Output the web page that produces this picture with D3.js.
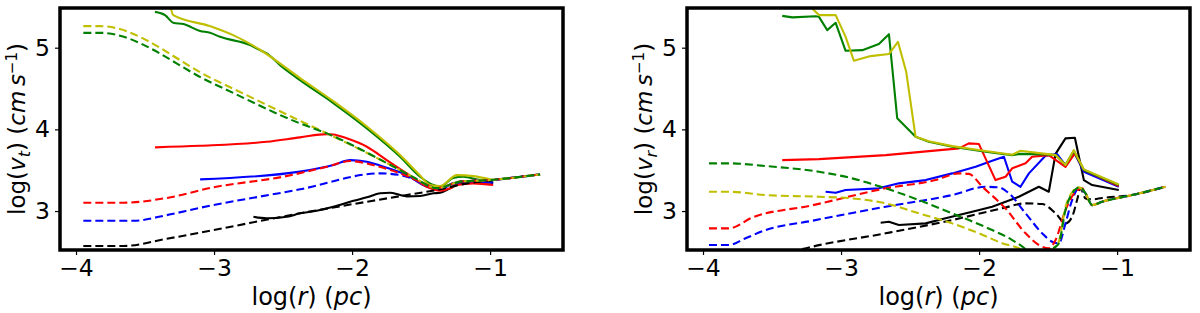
<!DOCTYPE html>
<html>
<head>
<meta charset="utf-8">
<script src="https://cdn.jsdelivr.net/npm/d3@7"></script>
<style>
  body { margin: 0; background: #fff; }
  svg text { font-family: "DejaVu Sans", sans-serif; fill: #000; }
</style>
</head>
<body>
<script>
// tick values and axis ranges
var xTicks = [-4, -3, -2, -1]
var yTicks = [3, 4, 5]
var xDomain = [-4.116, -0.472]
var yDomain = [2.523, 5.486]

// ---- left panel: log(v_t) ----
var tBlackSolid = [[-2.715,2.93],[-2.618,2.911],[-2.473,2.93],[-2.377,2.972],[-2.256,3.004],[-2.136,3.053],[-1.990,3.126],[-1.893,3.168],[-1.797,3.217],[-1.725,3.224],[-1.652,3.196],[-1.604,3.18],[-1.507,3.184],[-1.411,3.217],[-1.362,3.224],[-1.290,3.278],[-1.217,3.339],[-1.121,3.35],[-1.0,3.351],[-0.978,3.339]]
var tBlueSolid = [[-3.101,3.388],[-2.377,3.483],[-2.136,3.563],[-2.014,3.624],[-1.893,3.603],[-1.749,3.53],[-1.604,3.441],[-1.459,3.297],[-1.378,3.269],[-1.314,3.297],[-1.268,3.339],[-1.121,3.346],[-0.978,3.351]]
var tRedSolid = [[-3.428,3.78],[-3.101,3.799],[-2.618,3.848],[-2.377,3.902],[-2.183,3.942],[-2.136,3.938],[-2.039,3.89],[-1.893,3.787],[-1.749,3.624],[-1.604,3.461],[-1.459,3.297],[-1.362,3.248],[-1.290,3.278],[-1.241,3.318],[-1.121,3.339],[-0.978,3.318]]
var tGreenSolid = [[-3.428,5.439],[-3.355,5.399],[-3.295,5.305],[-3.222,5.289],[-3.101,5.205],[-3.029,5.182],[-2.957,5.133],[-2.739,5.032],[-2.667,4.97],[-2.618,4.93],[-2.522,4.787],[-2.377,4.603],[-2.136,4.322],[-1.893,4.012],[-1.652,3.665],[-1.507,3.42],[-1.411,3.318],[-1.362,3.297],[-1.268,3.404],[-1.196,3.42],[-1.051,3.379],[-0.978,3.379]]
var tYellowSolid = [[-3.33,5.62],[-3.295,5.399],[-3.029,5.264],[-2.862,5.154],[-2.667,4.975],[-2.377,4.628],[-2.136,4.345],[-1.893,4.035],[-1.652,3.685],[-1.507,3.435],[-1.435,3.32],[-1.362,3.306],[-1.241,3.44],[-1.121,3.428],[-0.978,3.379]]
var tBlackDash = [[-3.947,2.572],[-3.657,2.572],[-3.343,2.66],[-3.005,2.767],[-2.377,2.972],[-1.604,3.196],[-1.362,3.266],[-1.169,3.339],[-0.978,3.379],[-0.638,3.449]]
var tBlueDash = [[-3.947,2.881],[-3.587,2.881],[-3.343,2.95],[-3.101,3.04],[-2.377,3.266],[-1.797,3.461],[-1.652,3.441],[-1.604,3.42],[-1.459,3.32],[-1.386,3.28],[-1.217,3.36],[-1.0,3.38],[-0.638,3.449]]
var tRedDash = [[-3.947,3.102],[-3.657,3.102],[-3.343,3.16],[-3.005,3.29],[-2.5,3.42],[-2.183,3.542],[-2.014,3.612],[-1.848,3.563],[-1.652,3.461],[-1.507,3.359],[-1.386,3.28],[-1.217,3.36],[-1.0,3.38],[-0.638,3.449]]
var tGreenDash = [[-3.947,5.182],[-3.826,5.182],[-3.0,4.556],[-2.377,4.073],[-2.183,3.951],[-1.749,3.588],[-1.558,3.416],[-1.386,3.28],[-1.217,3.36],[-1.0,3.38],[-0.638,3.449]]
var tYellowDash = [[-3.947,5.264],[-3.826,5.264],[-3.0,4.61],[-2.377,4.105],[-2.183,3.951],[-1.749,3.588],[-1.558,3.416],[-1.386,3.28],[-1.217,3.36],[-1.0,3.38],[-0.638,3.449]]

// ---- right panel: log(v_r) ----
var rBlackSolid = [[-2.713,2.857],[-2.653,2.869],[-2.581,2.829],[-2.387,2.849],[-2.243,2.911],[-2.050,2.991],[-1.905,3.053],[-1.712,3.175],[-1.567,3.297],[-1.495,3.236],[-1.446,3.70],[-1.374,3.890],[-1.306,3.897],[-1.241,3.379],[-1.181,3.318],[-0.988,3.257]]
var rBlueSolid = [[-3.112,3.236],[-3.039,3.224],[-2.967,3.257],[-2.726,3.278],[-2.581,3.339],[-2.387,3.379],[-2.195,3.461],[-2.025,3.542],[-1.905,3.616],[-1.820,3.665],[-1.760,3.359],[-1.700,3.297],[-1.639,3.461],[-1.519,3.677],[-1.435,3.698],[-1.374,3.563],[-1.314,3.726],[-1.241,3.481],[-0.988,3.297]]
var rRedSolid = [[-3.426,3.624],[-3.160,3.636],[-2.677,3.685],[-2.146,3.767],[-2.074,3.829],[-2.001,3.820],[-1.881,3.379],[-1.808,3.420],[-1.760,3.523],[-1.663,3.584],[-1.616,3.665],[-1.495,3.685],[-1.374,3.542],[-1.306,3.706],[-1.241,3.502],[-0.988,3.306]]
var rGreenSolid = [[-3.426,5.390],[-3.353,5.371],[-3.184,5.385],[-3.160,5.378],[-3.100,5.215],[-3.039,5.305],[-2.967,4.962],[-2.846,4.970],[-2.726,5.044],[-2.653,5.166],[-2.593,4.135],[-2.460,3.909],[-2.364,3.848],[-2.195,3.787],[-1.953,3.726],[-1.760,3.685],[-1.700,3.70],[-1.519,3.694],[-1.446,3.685],[-1.374,3.563],[-1.314,3.738],[-1.241,3.502],[-0.988,3.318]]
var rYellowSolid = [[-3.426,5.8],[-3.209,5.48],[-3.160,5.399],[-3.039,5.399],[-2.967,5.133],[-2.907,4.840],[-2.786,4.897],[-2.653,4.922],[-2.588,5.072],[-2.528,4.705],[-2.460,3.909],[-2.364,3.855],[-2.195,3.795],[-1.953,3.735],[-1.760,3.69],[-1.700,3.738],[-1.519,3.70],[-1.446,3.685],[-1.374,3.563],[-1.314,3.745],[-1.241,3.51],[-0.988,3.325]]
var rBlackDash = [[-3.957,2.30],[-3.812,2.30],[-3.5,2.40],[-3.305,2.523],[-3.209,2.563],[-2.677,2.727],[-2.195,2.890],[-1.833,3.033],[-1.663,3.094],[-1.543,3.086],[-1.446,2.972],[-1.374,2.849],[-1.326,2.93],[-1.290,3.135],[-1.265,3.278],[-1.229,3.155],[-1.181,3.143],[-1.109,3.16],[-0.891,3.196],[-0.650,3.297]]
var rBlueDash = [[-3.957,2.584],[-3.812,2.584],[-3.70,2.66],[-3.546,2.767],[-3.209,2.881],[-2.677,3.053],[-2.195,3.196],[-1.953,3.297],[-1.857,3.29],[-1.784,3.217],[-1.663,2.972],[-1.543,2.727],[-1.471,2.624],[-1.422,2.605],[-1.374,2.849],[-1.326,3.135],[-1.277,3.278],[-1.229,3.217],[-1.181,3.073],[-1.109,3.114],[-0.891,3.196],[-0.650,3.297]]
var rRedDash = [[-3.957,2.788],[-3.812,2.788],[-3.643,2.92],[-3.209,3.07],[-2.677,3.278],[-2.315,3.379],[-2.146,3.461],[-2.074,3.455],[-1.978,3.30],[-1.808,3.03],[-1.663,2.727],[-1.567,2.584],[-1.495,2.543],[-1.446,2.645],[-1.374,3.012],[-1.301,3.236],[-1.253,3.278],[-1.229,3.217],[-1.181,3.073],[-1.109,3.114],[-0.891,3.196],[-0.650,3.297]]
var rGreenDash = [[-3.957,3.584],[-3.812,3.584],[-3.546,3.551],[-3.160,3.481],[-2.919,3.400],[-2.677,3.278],[-2.436,3.135],[-2.195,2.972],[-2.074,2.890],[-1.905,2.767],[-1.760,2.645],[-1.663,2.531],[-1.60,2.42],[-1.55,2.38],[-1.50,2.42],[-1.471,2.523],[-1.422,2.605],[-1.374,3.012],[-1.326,3.217],[-1.270,3.290],[-1.229,3.217],[-1.181,3.073],[-1.109,3.114],[-0.891,3.196],[-0.650,3.297]]
var rYellowDash = [[-3.957,3.236],[-3.812,3.236],[-3.546,3.196],[-3.160,3.175],[-2.919,3.155],[-2.677,3.094],[-2.436,2.972],[-2.195,2.849],[-2.001,2.727],[-1.833,2.605],[-1.688,2.523],[-1.60,2.40],[-1.55,2.37],[-1.50,2.42],[-1.471,2.523],[-1.422,2.63],[-1.374,3.05],[-1.326,3.23],[-1.277,3.29],[-1.229,3.217],[-1.181,3.073],[-1.109,3.114],[-0.891,3.196],[-0.650,3.297]]

var W = 1200, H = 313
var svg = d3.select('body').append('svg')
    .attr('width', W)
    .attr('height', H)

var colors = { k: '#000000', b: '#0000ff', r: '#ff0000', g: '#008000', y: '#bfbf00' }

var panels = [
    { id: 'vt', left: 60, right: 563, sub: 't', solidCurve: d3.curveMonotoneX,
      solids: [[tBlackSolid,'k'],[tBlueSolid,'b'],[tRedSolid,'r'],[tGreenSolid,'g'],[tYellowSolid,'y']],
      dashes: [[tBlackDash,'k'],[tBlueDash,'b'],[tRedDash,'r'],[tYellowDash,'y'],[tGreenDash,'g']] },
    { id: 'vr', left: 687, right: 1190, sub: 'r', solidCurve: d3.curveLinear,
      solids: [[rBlackSolid,'k'],[rBlueSolid,'b'],[rRedSolid,'r'],[rGreenSolid,'g'],[rYellowSolid,'y']],
      dashes: [[rBlackDash,'k'],[rBlueDash,'b'],[rRedDash,'r'],[rYellowDash,'y'],[rGreenDash,'g']] }
]
var plotTop = 8, plotBottom = 250

panels.forEach(function (p) {
    var x = d3.scaleLinear().domain(xDomain).range([p.left, p.right])
    var y = d3.scaleLinear().domain(yDomain).range([plotBottom, plotTop])

    svg.append('clipPath').attr('id', 'clip-' + p.id)
        .append('rect')
        .attr('x', p.left).attr('y', plotTop)
        .attr('width', p.right - p.left).attr('height', plotBottom - plotTop)

    var g = svg.append('g').attr('clip-path', 'url(#clip-' + p.id + ')')

    var dashLine = d3.line()
        .x(function (d) { return x(d[0]) })
        .y(function (d) { return y(d[1]) })
        .curve(d3.curveMonotoneX)
    var solidLine = d3.line()
        .x(function (d) { return x(d[0]) })
        .y(function (d) { return y(d[1]) })
        .curve(p.solidCurve)

    p.solids.forEach(function (s) {
        g.append('path')
            .attr('d', solidLine(s[0]))
            .attr('fill', 'none')
            .attr('stroke', colors[s[1]])
            .attr('stroke-width', 2.1)
            .attr('stroke-linejoin', 'round')
    })
    p.dashes.forEach(function (s) {
        g.append('path')
            .attr('d', dashLine(s[0]))
            .attr('fill', 'none')
            .attr('stroke', colors[s[1]])
            .attr('stroke-width', 2.1)
            .attr('stroke-dasharray', '8,4')
    })

    // axes
    var xAxis = d3.axisBottom(x).tickValues(xTicks).tickSize(5).tickPadding(4)
        .tickFormat(function (d) { return d3.format('d')(d).replace('-', '\u2212') })
    var yAxis = d3.axisLeft(y).tickValues(yTicks).tickSize(5).tickPadding(5)
        .tickFormat(d3.format('d'))

    var gx = svg.append('g').attr('transform', 'translate(0,' + plotBottom + ')').call(xAxis)
    var gy = svg.append('g').attr('transform', 'translate(' + p.left + ',0)').call(yAxis)
    ;[gx, gy].forEach(function (a) {
        a.attr('font-size', 23.5).attr('font-family', 'DejaVu Sans')
        a.select('.domain').remove()
        a.selectAll('.tick line').attr('stroke', '#000').attr('stroke-width', 1.2)
    })

    // frame
    svg.append('rect')
        .attr('x', p.left).attr('y', plotTop)
        .attr('width', p.right - p.left).attr('height', plotBottom - plotTop)
        .attr('fill', 'none')
        .attr('stroke', '#000')
        .attr('stroke-width', 3.5)

    // x label
    var cx = (p.left + p.right) / 2
    var xl = svg.append('text')
        .attr('x', cx).attr('y', 305)
        .attr('text-anchor', 'middle')
        .attr('font-size', 24)
    xl.append('tspan').text('log(')
    xl.append('tspan').attr('font-style', 'italic').text('r')
    xl.append('tspan').text(') (')
    xl.append('tspan').attr('font-style', 'italic').text('pc')
    xl.append('tspan').text(')')

    // y label
    var lx = p.left - 35, ly = (plotTop + plotBottom) / 2
    var yl = svg.append('text')
        .attr('transform', 'translate(' + lx + ',' + ly + ') rotate(-90)')
        .attr('text-anchor', 'middle')
        .attr('font-size', 23)
    yl.append('tspan').text('log(')
    yl.append('tspan').attr('font-style', 'italic').text('v')
    yl.append('tspan').attr('font-style', 'italic').attr('font-size', 16).attr('dy', 5).text(p.sub)
    yl.append('tspan').attr('dy', -5).text(') (')
    yl.append('tspan').attr('font-style', 'italic').text('cm\u2009s')
    yl.append('tspan').attr('font-size', 15).attr('dy', -8).text('\u22121')
    yl.append('tspan').attr('dy', 8).text(')')
})
</script>
</body>
</html>
